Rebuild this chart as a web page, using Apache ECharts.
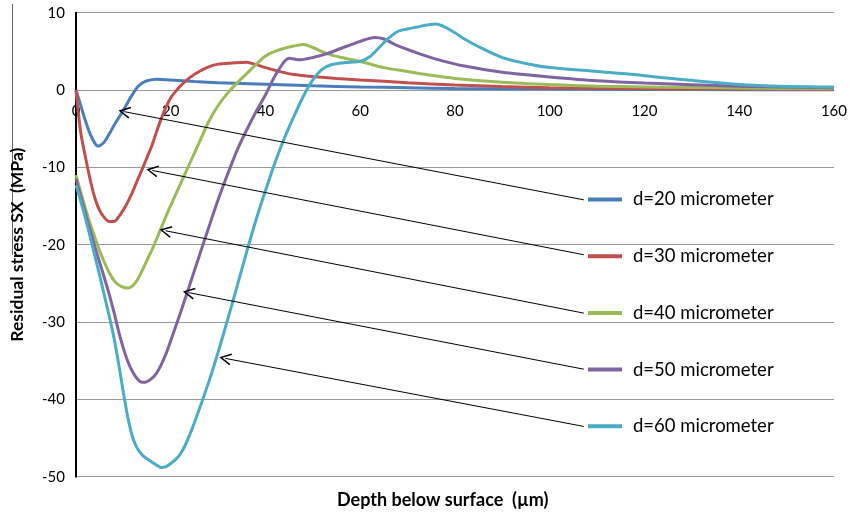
<!DOCTYPE html>
<html>
<head>
<meta charset="utf-8">
<script src="https://cdn.jsdelivr.net/npm/echarts@6/dist/echarts.min.js"></script>
<style>html,body{margin:0;padding:0;background:#fff;}#c{width:850px;height:513px;}</style>
</head>
<body>
<div id="c"></div>
<script>
// ---- data ----
const seriesNames = ['d=20 micrometer','d=30 micrometer','d=40 micrometer','d=50 micrometer','d=60 micrometer'];
const seriesColors = ['#4A7EBB','#C0504D','#9BBB59','#8064A2','#4BACC6'];

const d20x = [0,1,2,3,4,4.6,5,6,7,8,9,10,11,12,13,14,15,17,20,25,30,40,50,60,70,80,100,120,140,160];
const d20y = [0,-2.0,-4.0,-5.7,-6.9,-7.25,-7.2,-6.7,-5.7,-4.6,-3.6,-2.6,-1.5,-0.5,0.4,0.9,1.2,1.4,1.3,1.1,0.95,0.75,0.55,0.4,0.3,0.2,0.12,0.08,0.05,0.03];

const d30x = [0,1,2,3,4,5,6,7,8,9,10,11,12,13,14,15,16,17,18,19,20,21,22,24,26,28,30,33,36,38,40,43,46,50,55,60,70,80,90,100,110,120,140,160];
const d30y = [0,-5.5,-8.7,-11.6,-14,-15.6,-16.5,-17.0,-17.0,-16.4,-15.5,-14.4,-13.1,-11.6,-10.2,-8.7,-7.2,-5.4,-3.7,-2.2,-1.0,-0.2,0.5,1.6,2.4,3.0,3.35,3.5,3.6,3.3,2.9,2.4,2.0,1.75,1.5,1.3,0.95,0.65,0.45,0.3,0.22,0.18,0.12,0.08];

const d40x = [0,1,2,3,4,5,6,7,8,9,10,11,12,13,14,15,16,17,18,19,20,22,24,26,28,30,32,34,36,38,40,42,44,46,48,50,53,56,60,65,70,75,80,90,100,110,120,140,160];
const d40y = [-11,-13.2,-15.3,-17.3,-19.1,-20.8,-22.3,-23.6,-24.6,-25.2,-25.5,-25.6,-25.3,-24.5,-23.3,-22.0,-20.7,-19.3,-17.8,-16.3,-14.9,-12.2,-9.5,-6.8,-4.1,-2.0,-0.4,0.9,2.1,3.3,4.4,5.0,5.4,5.7,5.9,5.5,4.7,4.2,3.7,2.9,2.4,1.9,1.5,1.0,0.7,0.5,0.4,0.25,0.15];

const d50x = [0,1,2,3,4,5,6,7,8,9,10,11,12,13,14,15,16,17,18,19,20,22,24,26,28,30,32,34,36,38,40,42,44,45,47,50,53,56,60,63,65,68,72,76,82,90,100,110,120,140,160];
const d50y = [-11.5,-13.8,-16.0,-18.2,-20.3,-22.3,-24.3,-26.4,-28.7,-31.2,-33.4,-35.2,-36.5,-37.4,-37.8,-37.7,-37.3,-36.6,-35.5,-34.1,-32.4,-28.9,-25.2,-21.5,-17.8,-14.2,-10.9,-7.8,-5.2,-2.8,-0.6,1.8,3.7,4.1,3.9,4.2,4.7,5.4,6.3,6.8,6.6,5.7,4.8,4.0,3.1,2.3,1.7,1.2,0.9,0.5,0.3];

const d60x = [0,1,2,3,4,5,6,7,8,9,10,11,12,13,14,15,16,17,18,19,20,21,22,23,24,25,26,28,30,32,34,36,38,40,42,44,46,48,50,52,54,56,58,60,62,64,66,68,70,72,74,76,78,80,82,85,90,96,100,110,116,130,144,160];
const d60y = [-12.3,-14.4,-16.6,-19.0,-21.5,-24.0,-26.6,-29.2,-32.0,-35.4,-39.1,-42.5,-45.0,-46.4,-47.2,-47.7,-48.1,-48.5,-48.8,-48.7,-48.3,-47.8,-47.1,-46.0,-44.6,-43.0,-41.3,-37.8,-33.9,-29.7,-25.4,-21.0,-16.8,-13.0,-9.4,-6.2,-3.4,-0.8,1.3,2.7,3.3,3.5,3.6,3.7,4.3,5.5,6.7,7.6,7.9,8.15,8.4,8.55,8.1,7.4,6.6,5.6,4.2,3.3,2.9,2.4,2.1,1.25,0.6,0.4];

const seriesX = [d20x,d30x,d40x,d50x,d60x];
const seriesY = [d20y,d30y,d40y,d50y,d60y];

// annotation arrows: tail and tip in data units
const arrowTailX = [107.2,107.2,107.2,107.2,107.2];
const arrowTailY = [-14.2,-21.3,-28.85,-36.1,-43.5];
const arrowTipX  = [10.2,16.1,18.9,23.8,31.5];
const arrowTipY  = [-2.8,-10.4,-18.2,-26.2,-34.7];

const xTicks = [0,20,40,60,80,100,120,140,160];
const yTicks = [-50,-40,-30,-20,-10,0,10];
const yMin = -50, yMax = 10;

// ---- chart ----
const gridTop = 12.7, gridBottom = 36.3, H = 513;
const plotH = H - gridTop - gridBottom;
const zeroOffset = -plotH * (0 - yMin) / (yMax - yMin); // lift x axis to y=0

const chart = echarts.init(document.getElementById('c'), null, {renderer:'canvas'});
const zip = (xs, ys) => xs.map((x,i)=>[x, ys[i]]);
const arrowPath = 'path://M6,0 L12,11 L10.6,11.7 L6,3 L1.4,11.7 L0,11 Z';

const series = seriesNames.map((n,i)=>({
  name:n, type:'line', data: zip(seriesX[i], seriesY[i]),
  smooth:0.3, showSymbol:false, symbol:'none',
  lineStyle:{color:seriesColors[i], width:3},
  itemStyle:{color:seriesColors[i]},
  z:3
}));
series.push({
  name:'arrows', type:'line', data:[], silent:true,
  markLine:{
    silent:true, animation:false,
    symbol:['none', arrowPath], symbolSize:12,
    label:{show:false},
    lineStyle:{color:'#000', width:1, type:'solid'},
    emphasis:{disabled:true},
    data: arrowTailX.map((tx,i)=>[{coord:[tx, arrowTailY[i]]},{coord:[arrowTipX[i], arrowTipY[i]]}])
  },
  z:4
});

chart.setOption({
  animation:false,
  backgroundColor:'#fff',
  grid:{left:73.3, right:13.3, top:gridTop, bottom:gridBottom, containLabel:false},
  title:{
    text:'Depth below surface  (\u00b5m)', left:332, top:486,
    textStyle:{fontFamily:'Lato', fontWeight:'bold', fontSize:18, color:'#000'}
  },
  legend:{
    data:seriesNames, orient:'vertical', left:588, top:189.5, padding:0,
    itemWidth:34, itemHeight:4, icon:'rect', itemGap:36.7,
    textStyle:{fontFamily:'Lato', fontSize:18.5, color:'#000', lineHeight:20, padding:[0,0,0,6]}
  },
  xAxis:{
    type:'value', min:0, max:160, interval:20, position:'bottom', offset:zeroOffset,
    axisLine:{show:true, onZero:false, lineStyle:{color:'#999', width:1}},
    axisTick:{show:false},
    splitLine:{show:false},
    axisLabel:{color:'#000', fontFamily:'Lato', fontSize:15, margin:14,
      formatter:v=> xTicks.includes(v) ? String(v) : ''}
  },
  yAxis:{
    type:'value', min:yMin, max:yMax, interval:10,
    name:'Residual stress SX  (MPa)', nameLocation:'middle', nameGap:50,
    nameTextStyle:{fontFamily:'Lato', fontWeight:'bold', fontSize:17.5, color:'#000'},
    axisLine:{show:true, onZero:false, lineStyle:{color:'#000', width:2}},
    axisTick:{show:false},
    splitLine:{show:true, lineStyle:{color:'#999', width:1}},
    axisLabel:{color:'#000', fontFamily:'Lato', fontSize:15, margin:11,
      formatter:v=> yTicks.includes(v) ? String(v) : ''}
  },
  graphic:[{type:'line', shape:{x1:12.5,y1:4,x2:12.5,y2:255}, style:{stroke:'#666', lineWidth:1}, silent:true}],
  series
});
</script>
</body>
</html>
